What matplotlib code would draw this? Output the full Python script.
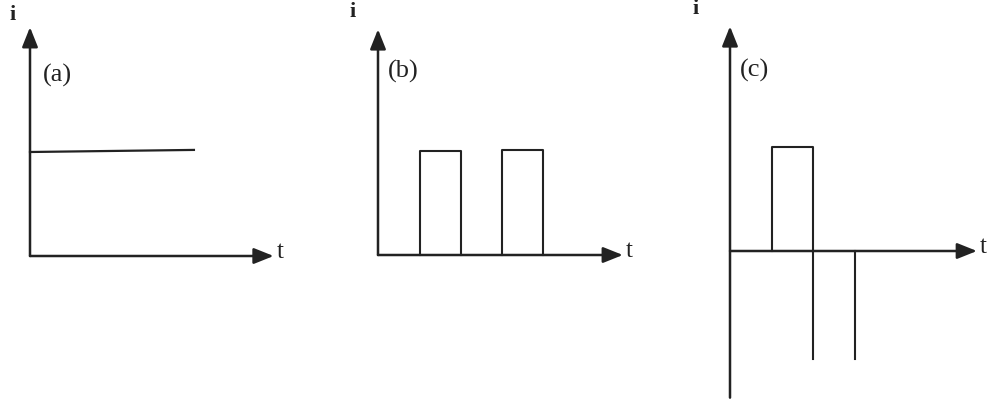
import matplotlib
matplotlib.use("Agg")
import matplotlib.pyplot as plt

# current waveforms: (a) steady dc, (b) unidirectional pulses, (c) pulse + negative spikes
t_a = [0.0, 3.95]
i_a = [1.0, 1.02]

pulses_b = [(1.0, 2.0), (3.0, 3.97)]
level_b = [1.0, 1.01]

pulse_c = (1.0, 2.0)
level_c = 1.0
spikes_c = [2.0, 3.0]
spike_depth = -1.04

PX_T, PX_I = 41.5, 104.0        # pixels per unit of t and i
W, H = 992, 406
INK = "#222222"
SERIF = ["Liberation Serif", "DejaVu Serif"]

fig = plt.figure(figsize=(W / 100, H / 100), dpi=100)


def panel(ox, oy, xlim, ylim):
    """Axes whose data origin sits at pixel (ox, oy) measured from the top-left."""
    left = ox + xlim[0] * PX_T
    bottom = (H - oy) + ylim[0] * PX_I
    ax = fig.add_axes([left / W, bottom / H,
                       (xlim[1] - xlim[0]) * PX_T / W, (ylim[1] - ylim[0]) * PX_I / H])
    ax.set_xlim(*xlim)
    ax.set_ylim(*ylim)
    ax.axis("off")
    return ax


def axes_arrows(ax, tmax, itop, ibot=0.0):
    kw = dict(arrowstyle="-|>,head_length=0.75,head_width=0.3", lw=1.8, color=INK,
              shrinkA=0, shrinkB=0, mutation_scale=16)
    ax.annotate("", xy=(tmax, 0), xytext=(0, 0), arrowprops=kw, annotation_clip=False)
    ax.annotate("", xy=(0, itop), xytext=(0, ibot), arrowprops=kw, annotation_clip=False)
    ax.text(tmax + 0.08, 0.05, "t", fontsize=18, family=SERIF, color=INK,
            ha="left", va="center")


def labels(ax, tag, tag_xy, i_xy):
    ax.text(*tag_xy, tag, fontsize=19, family=SERIF, color=INK, ha="center", va="center")
    ax.text(*i_xy, "i", fontsize=16, family=SERIF, weight="bold", color=INK,
            ha="center", va="center")


# (a)
ax = panel(30, 257, (-0.1, 6.2), (-0.1, 2.4))
axes_arrows(ax, 5.87, 2.2)
ax.plot(t_a, i_a, color=INK, lw=1.6)
labels(ax, "(a)", (0.66, 1.75), (-0.41, 2.33))

# (b)
ax = panel(378, 256, (-0.1, 6.2), (-0.1, 2.4))
axes_arrows(ax, 5.9, 2.17)
for (t0, t1), lv in zip(pulses_b, level_b):
    ax.plot([t0, t0, t1, t1], [0, lv, lv, 0], color=INK, lw=1.5)
labels(ax, "(b)", (0.6, 1.77), (-0.6, 2.35))

# (c)
ax = panel(730, 252, (-0.1, 6.3), (-1.5, 2.4))
axes_arrows(ax, 5.95, 2.16, ibot=-1.41)
t0, t1 = pulse_c
ax.plot([t0, t0, t1, t1], [0, level_c, level_c, 0], color=INK, lw=1.5)
for ts in spikes_c:
    ax.plot([ts, ts], [0, spike_depth], color=INK, lw=1.5)
labels(ax, "(c)", (0.6, 1.75), (-0.82, 2.34))

fig.savefig("out.png", dpi=100)
